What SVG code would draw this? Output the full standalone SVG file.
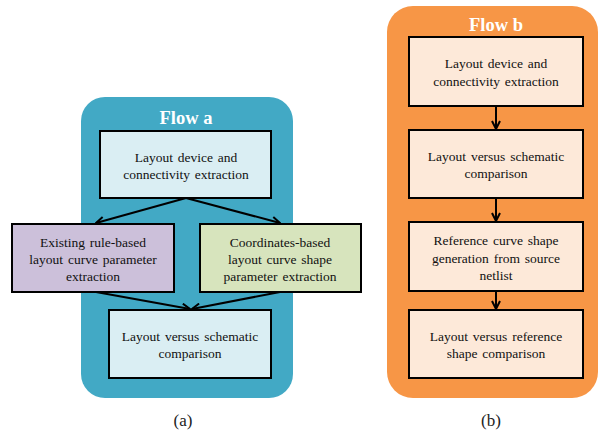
<svg xmlns="http://www.w3.org/2000/svg" width="600" height="433" viewBox="0 0 600 433">
<defs>
<marker id="arr" viewBox="0 0 10 10" refX="9" refY="5" markerWidth="5" markerHeight="5" orient="auto" markerUnits="strokeWidth">
<path d="M1,1 L9,5 L1,9" fill="none" stroke="#000" stroke-width="2"/>
</marker>
<style>
.box{stroke:#000;stroke-width:2}
.t{font-family:"Liberation Serif","Times New Roman",serif;font-size:13.5px;word-spacing:1.5px;fill:#111;text-anchor:middle}
.title{font-family:"Liberation Serif","Times New Roman",serif;font-size:18.5px;font-weight:bold;fill:#fff;text-anchor:middle}
.cap{font-family:"Liberation Serif","Times New Roman",serif;font-size:17px;fill:#222;text-anchor:middle}
.c{stroke:#000;stroke-width:2;fill:none;marker-end:url(#arr)}
</style>
</defs>
<rect width="600" height="433" fill="#fff"/>
<g id="panel-a">
<rect x="81" y="97" width="212" height="301" rx="24" fill="#42A9C5"/>
<text class="title" x="186" y="124">Flow a</text>
</g>
<g id="panel-b">
<rect x="387" y="6" width="211" height="392" rx="26" fill="#F79646"/>
<text class="title" x="496" y="31">Flow b</text>
</g>
<g id="connectors">
<line class="c" x1="186" y1="198" x2="96" y2="223"/>
<line class="c" x1="186" y1="198" x2="280" y2="223"/>
<line class="c" x1="96" y1="292" x2="190" y2="309"/>
<line class="c" x1="280" y1="292" x2="192" y2="309"/>
<line class="c" x1="496" y1="106" x2="496" y2="129"/>
<line class="c" x1="496" y1="198" x2="496" y2="221"/>
<line class="c" x1="496" y1="291" x2="496" y2="309"/>
</g>
<g id="a1">
<rect class="box" x="100" y="131" width="171" height="67" fill="#DAEEF3"/>
<text class="t" x="186" y="162">Layout device and</text>
<text class="t" x="186" y="179">connectivity extraction</text>
</g>
<g id="a2">
<rect class="box" x="12" y="224" width="162" height="68" fill="#CCC0DA"/>
<text class="t" x="93" y="247">Existing rule-based</text>
<text class="t" x="93" y="264">layout curve parameter</text>
<text class="t" x="93" y="281">extraction</text>
</g>
<g id="a3">
<rect class="box" x="200" y="224" width="161" height="68" fill="#D7E4BD"/>
<text class="t" x="280" y="247">Coordinates-based</text>
<text class="t" x="280" y="264">layout curve shape</text>
<text class="t" x="280" y="281">parameter extraction</text>
</g>
<g id="a4">
<rect class="box" x="109" y="310" width="162" height="68" fill="#DAEEF3"/>
<text class="t" x="190" y="341">Layout versus schematic</text>
<text class="t" x="190" y="358">comparison</text>
</g>
<g id="b1">
<rect class="box" x="409" y="37" width="174" height="69" fill="#FDE9D9"/>
<text class="t" x="496" y="68">Layout device and</text>
<text class="t" x="496" y="86">connectivity extraction</text>
</g>
<g id="b2">
<rect class="box" x="409" y="130" width="174" height="68" fill="#FDE9D9"/>
<text class="t" x="496" y="161">Layout versus schematic</text>
<text class="t" x="496" y="178">comparison</text>
</g>
<g id="b3">
<rect class="box" x="409" y="222" width="174" height="69" fill="#FDE9D9"/>
<text class="t" x="496" y="245">Reference curve shape</text>
<text class="t" x="496" y="263">generation from source</text>
<text class="t" x="496" y="280">netlist</text>
</g>
<g id="b4">
<rect class="box" x="409" y="310" width="174" height="68" fill="#FDE9D9"/>
<text class="t" x="496" y="341">Layout versus reference</text>
<text class="t" x="496" y="358">shape comparison</text>
</g>
<text class="cap" x="183" y="426">(a)</text>
<text class="cap" x="491" y="426">(b)</text>
</svg>
